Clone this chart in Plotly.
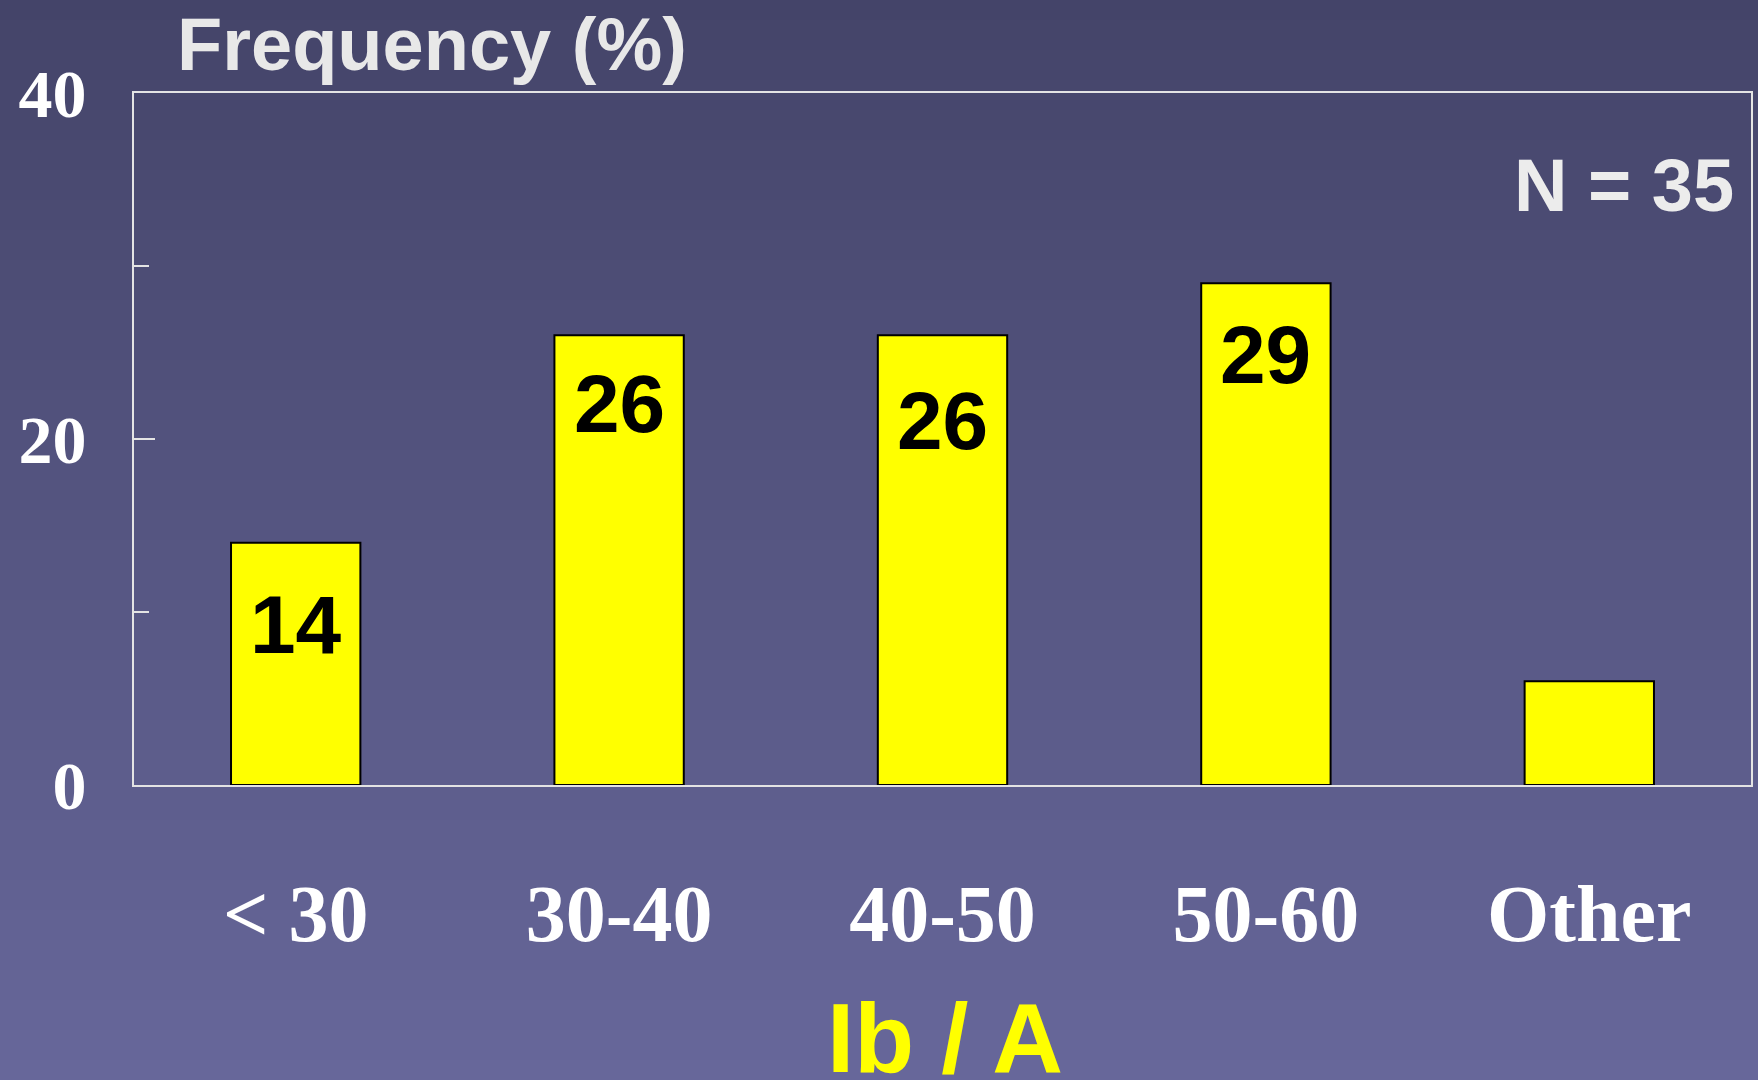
import plotly.graph_objects as go

categories = ["< 30", "30-40", "40-50", "50-60", "Other"]
values = [14, 26, 26, 29, 6]
bar_labels = ["14", "26", "26", "29", ""]
y_tick_vals = [0, 20, 40]
y_tick_text = ["0", "20", "40"]
x_title = "Ib / A"
y_title = "Frequency (%)"
n_text = "N = 35"

W, H = 1758, 1080
fig = go.Figure()

fig.add_trace(go.Bar(
    x=categories, y=values,
    marker=dict(color="#ffff00", line=dict(color="#000000", width=2)),
    width=0.4, showlegend=False, hoverinfo="skip",
))

# gradient background via horizontal bands
top_rgb = (0x44, 0x44, 0x69)
bot_rgb = (0x67, 0x67, 0x9a)
nb = 108
shapes = []
for i in range(nb):
    t = i / (nb - 1)
    c = tuple(round(top_rgb[k] + (bot_rgb[k] - top_rgb[k]) * t) for k in range(3))
    shapes.append(dict(type="rect", xref="paper", yref="paper",
                       x0=-0.2, x1=1.2,
                       y1=1 + 93 / 692 - i * (H / nb) / 692,
                       y0=1 + 93 / 692 - (i + 1) * (H / nb) / 692 - 0.002,
                       fillcolor="rgb(%d,%d,%d)" % c, line=dict(width=0), layer="below"))

annotations = []
label_shift = [-82, -68, -85, -71, 0]
for cat, v, lab, sh in zip(categories, values, bar_labels, label_shift):
    if lab:
        annotations.append(dict(x=cat, y=v, xref="x", yref="y", text="<b>" + lab + "</b>",
                                showarrow=False, yanchor="middle", yshift=sh,
                                font=dict(family="Liberation Sans", size=82, color="#000000")))
annotations.append(dict(x=432, y=44, xref="paper", yref="paper", text="<b>" + y_title + "</b>",
                        showarrow=False, xanchor="center", yanchor="middle",
                        font=dict(family="Liberation Sans", size=74, color="#e8e8e8")))
annotations.append(dict(x=1738, y=185, xref="paper", yref="paper", text="<b>" + n_text + "</b>",
                        showarrow=False, xanchor="right", yanchor="middle",
                        font=dict(family="Liberation Sans", size=74, color="#ececec")))
annotations.append(dict(x=946, y=1038, xref="paper", yref="paper", text="<b>" + x_title + "</b>",
                        showarrow=False, xanchor="center", yanchor="middle",
                        font=dict(family="Liberation Sans", size=98, color="#ffff00")))

# convert pixel positions of paper annotations
L, R, T, B = 134, 5, 93, 295
pw, ph = W - L - R, H - T - B
for a in annotations:
    if a["xref"] == "paper":
        a["x"] = (a["x"] - L) / pw
        a["y"] = 1 - (a["y"] - T) / ph

fig.update_layout(
    width=W, height=H,
    margin=dict(l=L, r=R, t=T, b=B, pad=0),
    paper_bgcolor="#56568a", plot_bgcolor="rgba(0,0,0,0)",
    shapes=shapes, annotations=annotations,
    bargap=0.6,
)
fig.update_xaxes(
    showline=True, linecolor="#e4e4e4", linewidth=2, mirror=True,
    showgrid=False, zeroline=False, ticks="",
    tickfont=dict(family="Liberation Serif", size=80, color="#ffffff"),
    tickprefix="<b>", ticksuffix="</b>", ticklabelstandoff=58,
)
fig.update_yaxes(
    range=[0, 40], showline=True, linecolor="#e4e4e4", linewidth=2, mirror=True,
    showgrid=False, zeroline=False,
    tickvals=y_tick_vals, ticktext=["<b>" + t + "</b>" for t in y_tick_text],
    ticks="inside", ticklen=21, tickwidth=2, tickcolor="#e4e4e4",
    minor=dict(ticks="inside", ticklen=15, tickwidth=2, tickcolor="#e4e4e4", dtick=10, showgrid=False),
    tickfont=dict(family="Liberation Serif", size=68, color="#ffffff"),
    ticklabelstandoff=32,
)

fig.write_html("out.html", config={"displayModeBar": False},
               post_script="document.body.style.margin='0';document.body.style.overflow='hidden';")
